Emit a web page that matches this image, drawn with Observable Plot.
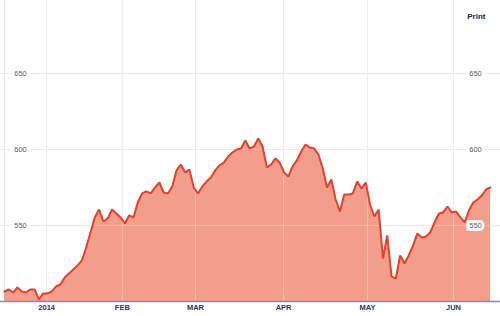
<!DOCTYPE html>
<html>
<head>
<meta charset="utf-8">
<script src="https://cdn.jsdelivr.net/npm/d3@7"></script>
<script src="https://cdn.jsdelivr.net/npm/@observablehq/plot@0.6"></script>
<style>
  html, body { margin: 0; padding: 0; background: #fff; }
  #chart svg { display: block; }
</style>
</head>
<body>
<div id="chart"></div>
<script>
// Price per trading session (Dec 2013 – Jun 2014)
const prices = [
  506.6, 507.9, 505.9, 509.2, 506.6, 505.9, 507.9, 507.9, 501.3, 505.3,
  505.3, 506.6, 509.9, 511.2, 515.8, 518.4, 521.1, 523.7, 527.0, 535.5,
  545.4, 555.3, 560.5, 552.6, 554.6, 560.5, 557.9, 555.3, 551.3, 556.6,
  555.3, 565.1, 571.1, 572.4, 571.1, 575.0, 578.3, 571.7, 571.1, 575.7,
  586.2, 590.1, 584.9, 586.8, 575.0, 571.1, 575.7, 578.9, 581.6, 586.2,
  589.5, 591.4, 595.4, 598.0, 600.0, 600.7, 605.9, 600.7, 602.0, 607.2,
  602.0, 588.2, 590.1, 594.1, 591.4, 584.9, 582.2, 588.8, 592.8, 598.7,
  603.3, 601.3, 600.7, 596.7, 587.5, 575.0, 580.3, 567.1, 559.2, 570.4,
  570.4, 571.1, 578.9, 574.3, 578.3, 563.8, 555.9, 560.5, 528.3, 543.4,
  516.4, 515.1, 530.3, 525.0, 530.3, 536.8, 544.7, 542.1, 542.8, 545.4,
  552.0, 557.9, 558.6, 562.5, 558.6, 559.2, 555.3, 552.0, 559.9, 565.1,
  567.1, 569.7, 573.7, 575.0
];
// Session index where each month label sits
const monthTickSessions = [9.8, 27.4, 44.4, 64.9, 84.4, 104.4];
const monthTickLabels = ["2014", "FEB", "MAR", "APR", "MAY", "JUN"];
const yTicks = [550, 600, 650];

const data = prices.map((p, i) => ({session: i, price: p}));
const monthTicks = monthTickSessions.map((s, i) => ({session: s, label: monthTickLabels[i]}));

const font = "Liberation Sans, Arial, sans-serif";

const chart = Plot.plot({
  width: 500,
  height: 316,
  marginTop: 0,
  marginBottom: 15,
  marginLeft: 0,
  marginRight: 0,
  style: {fontFamily: font, background: "#fff"},
  x: {domain: [-0.93, 115.33], axis: null},
  y: {domain: [500, 698], axis: null},
  marks: [
    Plot.ruleY(yTicks, {stroke: "#e4e4ea", strokeWidth: 1}),
    Plot.ruleX([0, ...monthTickSessions], {stroke: "#e4e4ea", strokeWidth: 1}),
    Plot.areaY(data, {x: "session", y1: 500, y2: "price", fill: "#f39e8b"}),
    Plot.ruleX(monthTickSessions, {stroke: "#ffffff", strokeOpacity: 0.3, strokeWidth: 1}),
    Plot.ruleY(yTicks, {stroke: "#ffffff", strokeOpacity: 0.2, strokeWidth: 1}),
    Plot.lineY(data, {x: "session", y: "price", stroke: "#e2422b", strokeWidth: 2, strokeLinejoin: "miter"}),
    Plot.ruleY([500], {stroke: "#8a88b0", strokeWidth: 1.5}),
    Plot.text(yTicks, {
      y: d => d, text: d => String(d), frameAnchor: "left", dx: 20, textAnchor: "middle",
      fontSize: 7.5, fill: "#5a5a66", stroke: "#ffffff", strokeWidth: 6, strokeLinejoin: "miter"
    }),
    Plot.text(yTicks, {
      y: d => d, text: d => String(d), frameAnchor: "right", dx: -25, textAnchor: "middle",
      fontSize: 7.5, fill: "#5a5a66", stroke: "#ffffff", strokeWidth: 6, strokeLinejoin: "miter"
    }),
    Plot.text(monthTicks, {
      x: "session", text: "label", frameAnchor: "bottom", dy: 8, textAnchor: "middle",
      fontSize: 7.5, fontWeight: "bold", fill: "#34345a"
    }),
    Plot.text(["Print"], {
      frameAnchor: "top-right", dx: -15, dy: 13, textAnchor: "end",
      fontSize: 8, fontWeight: "bold", fill: "#1d1d44"
    })
  ]
});

document.getElementById("chart").appendChild(chart);
</script>
</body>
</html>
